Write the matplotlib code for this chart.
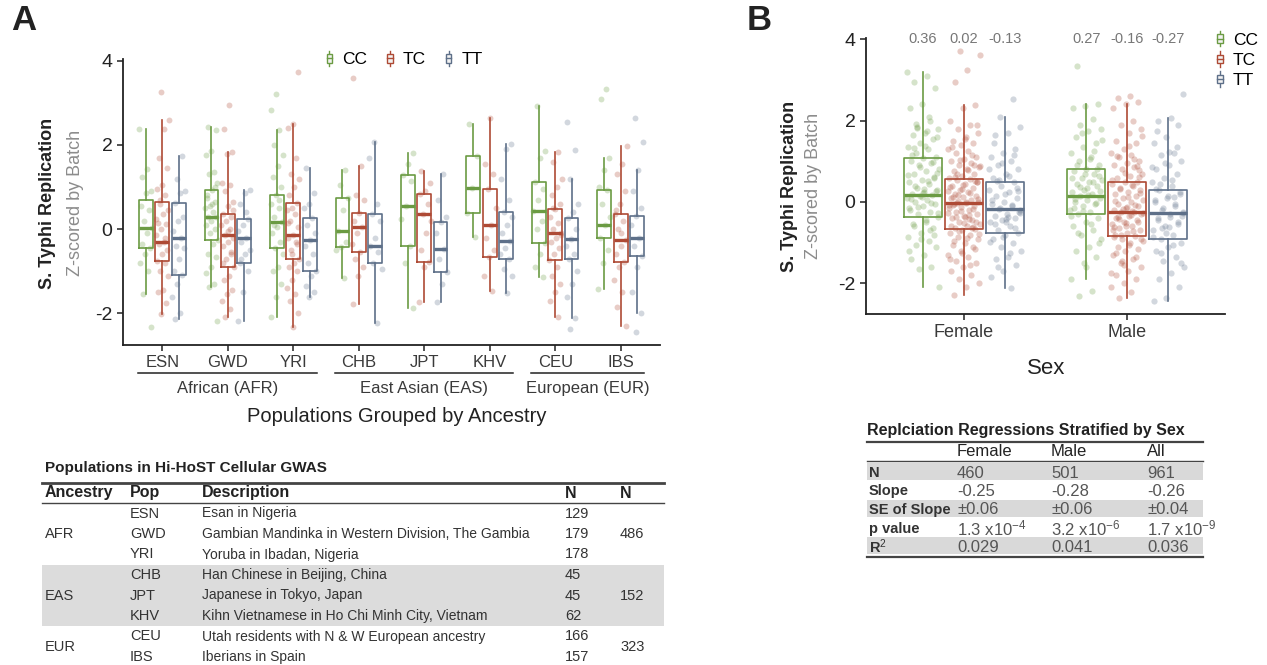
import numpy as np
import matplotlib.pyplot as plt
from matplotlib.legend_handler import HandlerBase
from matplotlib.patches import Rectangle
from matplotlib.lines import Line2D
from matplotlib.transforms import blended_transform_factory

plt.rcParams['font.family'] = ['Liberation Sans', 'DejaVu Sans']
plt.rcParams['axes.unicode_minus'] = False
plt.rcParams['mathtext.fontset'] = 'custom'
plt.rcParams['mathtext.rm'] = 'Liberation Sans'
plt.rcParams['mathtext.it'] = 'Liberation Sans'
plt.rcParams['mathtext.bf'] = 'Liberation Sans:bold'

# ---------------- data ----------------
genotypes = ['CC', 'TC', 'TT']
colors = ['#6B9B43', '#AE4A35', '#5E7089']

pops = ['ESN', 'GWD', 'YRI', 'CHB', 'JPT', 'KHV', 'CEU', 'IBS']
ancestry_names = ['African (AFR)', 'East Asian (EAS)', 'European (EUR)']
ancestry_pops = [['ESN', 'GWD', 'YRI'], ['CHB', 'JPT', 'KHV'], ['CEU', 'IBS']]

# panel A box stats (whisker low, q1, median, q3, whisker high) per population
a_cc_lo = [-1.54, -1.38, -2.09, -1.15, -1.88, -0.19, -1.14, -1.41]
a_cc_q1 = [-0.45, -0.25, -0.45, -0.43, -0.40, 0.39, -0.32, -0.21]
a_cc_med = [0.02, 0.30, 0.17, -0.04, 0.54, 0.97, 0.43, 0.10]
a_cc_q3 = [0.70, 0.93, 0.82, 0.73, 1.29, 1.74, 1.12, 0.92]
a_cc_hi = [2.37, 2.42, 2.36, 1.41, 1.80, 2.50, 2.93, 1.69]

a_tc_lo = [-2.01, -2.09, -2.33, -1.78, -1.72, -1.46, -2.09, -2.29]
a_tc_q1 = [-0.75, -0.89, -0.70, -0.55, -0.78, -0.66, -0.73, -0.78]
a_tc_med = [-0.30, -0.13, -0.14, 0.06, 0.35, 0.10, -0.09, -0.25]
a_tc_q3 = [0.65, 0.36, 0.63, 0.39, 0.84, 0.96, 0.47, 0.36]
a_tc_hi = [2.60, 1.84, 2.49, 1.50, 1.37, 2.64, 1.84, 1.98]

a_tt_lo = [-2.14, -2.17, -1.60, -2.22, -1.72, -1.52, -2.12, -1.98]
a_tt_q1 = [-1.09, -0.81, -1.00, -0.81, -1.02, -0.70, -0.70, -0.63]
a_tt_med = [-0.22, -0.22, -0.25, -0.40, -0.47, -0.29, -0.24, -0.21]
a_tt_q3 = [0.62, 0.25, 0.27, 0.36, 0.18, 0.41, 0.27, 0.32]
a_tt_hi = [1.74, 0.92, 1.45, 2.07, 1.31, 2.02, 1.20, 1.41]

# panel A individual points (estimated), one list per population
a_pts_cc = [
    [2.37, 1.42, 1.25, 0.9, 0.85, 0.55, 0.45, 0.2, 0.02, -0.1, -0.35, -0.45, -0.6, -0.8, -1.0, -1.54, -2.33],
    [2.42, 2.35, 1.85, 1.75, 1.35, 1.3, 1.1, 0.93, 0.8, 0.65, 0.55, 0.5, 0.4, 0.3, 0.3, 0.2, 0.1, 0.0,
     -0.1, -0.25, -0.35, -0.6, -0.65, -0.9, -1.05, -1.3, -1.38, -2.19, 0.6, 0.75, 1.0],
    [3.21, 2.83, 2.36, 2.0, 1.75, 1.5, 1.25, 1.0, 0.82, 0.6, 0.5, 0.3, 0.17, 0.05, -0.1, -0.3, -0.45,
     -0.6, -0.9, -1.0, -1.3, -1.6, -2.09, 0.7, 0.1],
    [1.41, 1.05, 0.73, 0.45, -0.04, -0.3, -0.43, -0.5, -1.15],
    [1.8, 1.55, 1.29, 1.15, 0.54, 0.25, -0.4, -0.8, -1.88],
    [2.5, 1.74, 0.97, 0.39, -0.19],
    [2.93, 1.85, 1.7, 1.12, 0.95, 0.7, 0.43, 0.2, 0.0, -0.32, -0.6, -0.9, -1.14],
    [3.33, 3.09, 1.69, 1.4, 1.0, 0.92, 0.6, 0.3, 0.1, -0.21, -0.5, -0.8, -1.41],
]
a_pts_tc = [
    [3.25, 2.6, 2.38, 1.7, 1.45, 1.05, 0.95, 0.8, 0.6, 0.45, 0.35, 0.15, 0.12, 0.0, -0.15, -0.3, -0.35,
     -0.5, -0.6, -0.75, -0.8, -1.0, -1.1, -1.45, -1.5, -1.75, -2.01, 0.25, -0.2, 0.7],
    [2.94, 2.38, 1.84, 1.78, 1.1, 1.05, 0.9, 0.65, 0.55, 0.36, 0.3, 0.2, 0.1, 0.0, -0.13, -0.2, -0.3,
     -0.4, -0.55, -0.7, -0.89, -1.1, -1.2, -1.45, -1.55, -1.7, -1.9, -2.09, 0.45, -0.05, -0.8, -0.6],
    [3.73, 2.49, 2.4, 1.7, 1.3, 1.2, 1.0, 0.8, 0.63, 0.5, 0.45, 0.35, 0.2, 0.05, -0.14, -0.2, -0.3,
     -0.5, -0.7, -0.8, -0.9, -1.0, -1.2, -1.4, -1.55, -1.7, -2.0, -2.33, 0.15, -0.35, -0.6],
    [3.6, 1.5, 0.8, 0.7, 0.39, 0.2, 0.06, -0.1, -0.35, -0.55, -0.7, -0.9, -1.1, -1.78],
    [1.37, 1.1, 0.9, 0.84, 0.6, 0.35, 0.2, -0.1, -0.5, -0.78, -0.9, -1.72],
    [2.64, 1.55, 1.3, 0.96, 0.5, 0.1, -0.2, -0.5, -0.66, -1.1, -1.46],
    [1.84, 1.6, 1.2, 1.0, 0.8, 0.6, 0.47, 0.3, 0.15, 0.0, -0.09, -0.2, -0.3, -0.45, -0.6, -0.73, -0.9,
     -1.1, -1.3, -1.5, -1.7, -2.09, 0.5, -0.15],
    [1.98, 1.55, 1.3, 0.9, 0.6, 0.36, 0.2, 0.0, -0.25, -0.4, -0.6, -0.78, -0.9, -1.2, -1.5, -1.85,
     -2.29, -0.1, 0.45],
]
a_pts_tt = [
    [1.74, 1.2, 0.9, 0.85, 0.62, 0.3, 0.2, -0.05, -0.22, -0.4, -0.45, -0.7, -1.0, -1.09, -1.3, -1.6, -2.0, -2.14],
    [0.92, 0.85, 0.6, 0.25, 0.1, -0.05, -0.22, -0.3, -0.5, -0.6, -0.81, -1.0, -1.5, -2.17, 0.4, -0.7],
    [1.45, 0.85, 0.6, 0.5, 0.27, 0.1, -0.1, -0.25, -0.4, -0.6, -0.8, -1.0, -1.1, -1.35, -1.5, -1.6],
    [2.07, 1.7, 0.6, 0.36, 0.2, -0.2, -0.4, -0.55, -0.81, -0.95, -2.22],
    [1.31, 0.7, 0.3, 0.18, -0.1, -0.47, -0.7, -1.02, -1.3, -1.72],
    [2.02, 1.9, 1.2, 0.7, 0.41, 0.3, 0.1, -0.1, -0.29, -0.45, -0.6, -0.7, -0.95, -1.1, -1.52],
    [2.55, 1.87, 1.2, 0.6, 0.4, 0.27, 0.0, -0.24, -0.4, -0.6, -0.7, -1.0, -1.3, -1.6, -2.12, -2.38],
    [2.64, 2.08, 1.41, 0.9, 0.5, 0.32, 0.1, -0.21, -0.4, -0.63, -0.9, -1.5, -1.98, -2.44],
]

# panel B (Female, Male)
sexes = ['Female', 'Male']
b_cc_lo = [-2.10, -1.89]
b_cc_q1 = [-0.38, -0.30]
b_cc_med = [0.17, 0.14]
b_cc_q3 = [1.07, 0.80]
b_cc_hi = [3.20, 2.41]
b_tc_lo = [-2.28, -2.35]
b_tc_q1 = [-0.67, -0.84]
b_tc_med = [-0.03, -0.24]
b_tc_q3 = [0.57, 0.48]
b_tc_hi = [2.38, 2.40]
b_tt_lo = [-2.12, -2.43]
b_tt_q1 = [-0.75, -0.92]
b_tt_med = [-0.18, -0.28]
b_tt_q3 = [0.48, 0.30]
b_tt_hi = [2.08, 2.07]
b_mean_cc = ['0.36', '0.27']
b_mean_tc = ['0.02', '-0.16']
b_mean_tt = ['-0.13', '-0.27']

b_pts_cc = [
    [3.20, 3.1, 2.95, 2.8, 2.4, 2.3, 2.0, 1.85, 1.8, 1.7, 1.65, 1.55, 1.45, 1.35, 1.3, 1.2, 1.1, 1.07, 1.0,
     0.95, 0.9, 0.8, 0.75, 0.7, 0.6, 0.55, 0.5, 0.45, 0.35, 0.3, 0.25, 0.2, 0.17, 0.15, 0.1, 0.05, 0.0,
     -0.05, -0.1, -0.2, -0.25, -0.3, -0.38, -0.45, -0.55, -0.65, -0.75, -0.85, -0.95, -1.05, -1.1, -1.3,
     -1.4, -1.6, -1.65, -2.10, 1.75, 1.32, 0.62, 0.12, -0.15, -0.7,
     1.82, 1.6, 1.38, 1.15, 0.98, 0.85, 0.66, 0.52, 0.4, 0.28, 0.22, 0.08, -0.02, -0.12, -0.28, -0.5,
     -0.6, -0.8, -0.9, -1.2, 2.1, 1.92, 0.72, 0.32],
    [3.33, 2.41, 2.35, 2.3, 2.05, 1.9, 1.8, 1.75, 1.6, 1.45, 1.35, 1.2, 1.1, 1.0, 0.9, 0.8, 0.75, 0.7, 0.6,
     0.55, 0.5, 0.45, 0.4, 0.3, 0.25, 0.2, 0.14, 0.1, 0.05, 0.0, -0.05, -0.1, -0.2, -0.25, -0.3, -0.4, -0.5,
     -0.6, -0.7, -0.8, -0.9, -1.1, -1.2, -1.35, -1.5, -1.89, -2.18, -2.31, 0.65, 0.35, -0.15, 1.25,
     1.7, 1.52, 1.05, 0.92, 0.82, 0.68, 0.58, 0.48, 0.38, 0.28, 0.18, 0.08, -0.02, -0.22, -0.35, -0.55,
     -0.75, -1.0, -1.6],
]
b_pts_tc = [
    [3.72, 3.61, 3.25, 2.96, 2.38, 2.3, 2.0, 1.9, 1.8, 1.7, 1.6, 1.5, 1.45, 1.4, 1.3, 1.25, 1.2, 1.1, 1.05,
     1.0, 0.95, 0.9, 0.85, 0.8, 0.75, 0.7, 0.65, 0.6, 0.57, 0.55, 0.5, 0.45, 0.4, 0.35, 0.3, 0.28, 0.25,
     0.2, 0.15, 0.12, 0.1, 0.05, 0.02, 0.0, -0.03, -0.05, -0.1, -0.12, -0.15, -0.2, -0.25, -0.3, -0.35,
     -0.4, -0.45, -0.5, -0.55, -0.6, -0.65, -0.67, -0.7, -0.75, -0.8, -0.85, -0.9, -1.0, -1.05, -1.1, -1.2,
     -1.3, -1.35, -1.45, -1.5, -1.6, -1.7, -1.8, -1.9, -2.0, -2.1, -2.28, 0.92, 0.33, -0.08, -0.42, 0.68,
     1.88, 1.55, 1.35, 1.15, 1.02, 0.88, 0.78, 0.62, 0.52, 0.42, 0.36, 0.22, 0.18, 0.07, -0.01, -0.07,
     -0.18, -0.22, -0.28, -0.33, -0.38, -0.48, -0.52, -0.58, -0.63, -0.72, -0.78, -0.88, -0.95, -1.15,
     -1.25, -1.4, -1.55, -0.02, 0.48, -0.36, 0.12, -0.62],
    [2.6, 2.55, 2.45, 2.40, 2.3, 2.0, 1.9, 1.8, 1.7, 1.5, 1.45, 1.3, 1.2, 1.15, 1.1, 1.0, 0.95, 0.9, 0.85,
     0.8, 0.7, 0.65, 0.6, 0.5, 0.48, 0.45, 0.4, 0.35, 0.3, 0.25, 0.2, 0.15, 0.1, 0.05, 0.0, -0.05, -0.1,
     -0.15, -0.2, -0.24, -0.25, -0.3, -0.35, -0.4, -0.45, -0.5, -0.55, -0.6, -0.65, -0.7, -0.75, -0.8,
     -0.84, -0.9, -0.95, -1.0, -1.1, -1.15, -1.2, -1.3, -1.4, -1.5, -1.6, -1.7, -1.8, -1.9, -2.0, -2.1,
     -2.2, -2.35, 0.78, -0.52, -0.62, 1.05, -1.45,
     1.62, 1.38, 1.12, 0.88, 0.72, 0.55, 0.42, 0.32, 0.22, 0.12, 0.02, -0.08, -0.18, -0.28, -0.32,
     -0.38, -0.48, -0.58, -0.68, -0.72, -0.82, -0.92, -1.05, -1.25, -1.35, -1.55, -1.75, -0.22, -0.42,
     0.62, -0.12, -0.86],
]
b_pts_tt = [
    [2.53, 2.08, 1.85, 1.7, 1.65, 1.3, 1.2, 1.1, 1.0, 0.9, 0.8, 0.7, 0.6, 0.48, 0.4, 0.3, 0.25, 0.15, 0.1,
     0.0, -0.05, -0.1, -0.18, -0.2, -0.3, -0.35, -0.4, -0.45, -0.5, -0.6, -0.7, -0.75, -0.8, -0.9, -1.0,
     -1.1, -1.2, -1.35, -1.4, -1.55, -1.7, -1.85, -2.12, 0.55, -0.25, -0.42,
     1.45, 1.15, 0.95, 0.82, 0.65, 0.52, 0.35, 0.2, 0.05, -0.08, -0.15, -0.28, -0.38, -0.55, -0.65,
     -0.85, -0.98, -1.25, -1.6, 0.28, -0.48],
    [2.65, 2.07, 2.0, 1.9, 1.6, 1.45, 1.2, 1.15, 1.0, 0.9, 0.8, 0.7, 0.6, 0.5, 0.4, 0.3, 0.2, 0.1, 0.0,
     -0.1, -0.2, -0.28, -0.3, -0.4, -0.5, -0.6, -0.7, -0.8, -0.92, -1.0, -1.1, -1.2, -1.35, -1.45, -1.6,
     -1.75, -1.9, -2.1, -2.35, -2.43, 0.12, -0.65, -0.35, 1.22,
     1.75, 1.35, 0.95, 0.85, 0.55, 0.45, 0.25, 0.15, 0.05, -0.05, -0.15, -0.25, -0.38, -0.45, -0.55,
     -0.75, -0.85, -1.05, -1.25, -1.5, -0.62, 0.32],
]

# table A
table_a_title = 'Populations in Hi-HoST Cellular GWAS'
table_a_header = ['Ancestry', 'Pop', 'Description', 'N', 'N']
anc_codes = ['AFR', 'EAS', 'EUR']
pop_desc = ['Esan in Nigeria',
            'Gambian Mandinka in Western Division, The Gambia',
            'Yoruba in Ibadan, Nigeria',
            'Han Chinese in Beijing, China',
            'Japanese in Tokyo, Japan',
            'Kihn Vietnamese in Ho Chi Minh City, Vietnam',
            'Utah residents with N & W European ancestry',
            'Iberians in Spain']
pop_n = [129, 179, 178, 45, 45, 62, 166, 157]
anc_n = [486, 152, 323]

# table B
table_b_title = 'Replciation Regressions Stratified by Sex'
table_b_cols = ['Female', 'Male', 'All']
table_b_rows = ['N', 'Slope', 'SE of Slope', 'p value', 'R$^2$']
tb_female = ['460', '-0.25', '\u00b10.06', '1.3 x10$^{-4}$', '0.029']
tb_male = ['501', '-0.28', '\u00b10.06', '3.2 x10$^{-6}$', '0.041']
tb_all = ['961', '-0.26', '\u00b10.04', '1.7 x10$^{-9}$', '0.036']

# ---------------- figure ----------------
W, H = 1267, 665
fig = plt.figure(figsize=(W / 100, H / 100), dpi=100)


def fx(px):
    return px / W


def fy(py):
    return 1 - py / H


def axes_px(left, top, right, bottom):
    return fig.add_axes([fx(left), fy(bottom), (right - left) / W, (bottom - top) / H])


class BoxKey(HandlerBase):
    def create_artists(self, legend, orig_handle, xdescent, ydescent, width, height, fontsize, trans):
        c = orig_handle.get_color()
        cx = width / 2 - xdescent
        bw = width * 0.7
        y0 = -ydescent
        whisk = Line2D([cx, cx], [y0, y0 + height], color=c, lw=1.0, transform=trans)
        box = Rectangle((cx - bw / 2, y0 + height * 0.22), bw, height * 0.56, facecolor='#f2f2f2',
                        edgecolor=c, lw=1.0, transform=trans)
        med = Line2D([cx - bw / 2, cx + bw / 2], [y0 + height / 2] * 2, color=c, lw=1.0, transform=trans)
        return [whisk, box, med]


def draw_panel(ax, centers, stats, points, width, size):
    for g, col in enumerate(colors):
        pos = np.asarray(centers, dtype=float) + (g - 1) * 0.25
        lo, q1, med, q3, hi = stats[g]
        bstats = [dict(whislo=lo[i], q1=q1[i], med=med[i], q3=q3[i], whishi=hi[i], fliers=[])
                  for i in range(len(pos))]
        for i, vals in enumerate(points[g]):
            k = np.arange(len(vals))
            jit = ((k * 0.618034 + 0.37 * g + 0.23 * i) % 1 - 0.5) * 0.2
            ax.scatter(pos[i] + jit, vals, s=size, color=col, alpha=0.28, linewidths=0, zorder=1)
        ax.bxp(bstats, positions=pos, widths=width, showfliers=False, showcaps=False,
               boxprops=dict(color=col, linewidth=1.2),
               whiskerprops=dict(color=col, linewidth=1.2),
               medianprops=dict(color=col, linewidth=2.4),
               manage_ticks=False, zorder=2)


def style_axes(ax):
    for s in ['top', 'right']:
        ax.spines[s].set_visible(False)
    for s in ['left', 'bottom']:
        ax.spines[s].set_linewidth(1.3)
        ax.spines[s].set_color('#222222')
    ax.tick_params(length=4, width=1.1, color='#222222')
    ax.set_yticks([-2, 0, 2, 4])
    ax.set_yticklabels(['-2', '0', '2', '4'], fontsize=14, color='#222222')


# ---- panel A ----
axA = axes_px(123, 59, 660, 345)
xA = np.arange(1, len(pops) + 1)
draw_panel(axA, xA,
           [(a_cc_lo, a_cc_q1, a_cc_med, a_cc_q3, a_cc_hi),
            (a_tc_lo, a_tc_q1, a_tc_med, a_tc_q3, a_tc_hi),
            (a_tt_lo, a_tt_q1, a_tt_med, a_tt_q3, a_tt_hi)],
           [a_pts_cc, a_pts_tc, a_pts_tt], 0.21, 18)
axA.set_xlim(0.4, len(pops) + 0.6)
axA.set_ylim(-2.75, 4.04)
style_axes(axA)
axA.set_xticks(xA)
axA.set_xticklabels(pops, fontsize=12, color='#3a3a3a')

tr = blended_transform_factory(axA.transData, fig.transFigure)
for name, members in zip(ancestry_names, ancestry_pops):
    i0 = pops.index(members[0]) + 1
    i1 = pops.index(members[-1]) + 1
    axA.add_line(Line2D([i0 - 0.37, i1 + 0.36], [fy(373), fy(373)], color='#222222', lw=1.1,
                        transform=tr, clip_on=False))
    axA.text((i0 + i1) / 2, fy(389), name, transform=tr, ha='center', va='center',
             fontsize=12, color='#3a3a3a')

fig.text(fx(397), fy(416), 'Populations Grouped by Ancestry', ha='center', va='center',
         fontsize=14.5, color='#222222')
fig.text(fx(48), fy(203), 'S. Typhi Replication', rotation=90, ha='center', va='center',
         fontsize=13, fontweight='bold', color='#222222')
fig.text(fx(75), fy(203), 'Z-scored by Batch', rotation=90, ha='center', va='center',
         fontsize=13, color='#8c8c8c')
fig.text(fx(11), fy(21), 'A', ha='left', va='center', fontsize=25, fontweight='bold', color='#222222')

handles = [Line2D([], [], color=c) for c in colors]
axA.legend(handles, genotypes, handler_map={Line2D: BoxKey()}, ncol=3, loc='center',
           bbox_to_anchor=(fx(404), fy(59)), bbox_transform=fig.transFigure, frameon=False,
           handlelength=0.45, handleheight=1.0, handletextpad=0.5, columnspacing=1.1,
           fontsize=12.5, borderpad=0)

# ---- panel B ----
axB = axes_px(866, 38, 1225, 313.5)
xB = np.arange(1, len(sexes) + 1)
draw_panel(axB, xB,
           [(b_cc_lo, b_cc_q1, b_cc_med, b_cc_q3, b_cc_hi),
            (b_tc_lo, b_tc_q1, b_tc_med, b_tc_q3, b_tc_hi),
            (b_tt_lo, b_tt_q1, b_tt_med, b_tt_q3, b_tt_hi)],
           [b_pts_cc, b_pts_tc, b_pts_tt], 0.235, 20)
axB.set_xlim(0.4, len(sexes) + 0.6)
axB.set_ylim(-2.74, 4.03)
style_axes(axB)
axB.set_xticks(xB)
axB.set_xticklabels(sexes, fontsize=13, color='#3a3a3a')
for g, means in enumerate([b_mean_cc, b_mean_tc, b_mean_tt]):
    for i, m in enumerate(means):
        axB.text(xB[i] + (g - 1) * 0.25, 4.0, m, ha='center', va='center', fontsize=10.5,
                 color='#777777', clip_on=False)

fig.text(fx(1046), fy(368), 'Sex', ha='center', va='center', fontsize=16, color='#222222')
fig.text(fx(789), fy(186), 'S. Typhi Replication', rotation=90, ha='center', va='center',
         fontsize=13, fontweight='bold', color='#222222')
fig.text(fx(814), fy(186), 'Z-scored by Batch', rotation=90, ha='center', va='center',
         fontsize=13, color='#8c8c8c')
fig.text(fx(747), fy(21), 'B', ha='left', va='center', fontsize=25, fontweight='bold', color='#222222')

axB.legend(handles, genotypes, handler_map={Line2D: BoxKey()}, loc='center',
           bbox_to_anchor=(fx(1237), fy(59.5)), bbox_transform=fig.transFigure, frameon=False,
           handlelength=0.45, handleheight=1.0, handletextpad=0.5, labelspacing=0.2,
           fontsize=12.5, borderpad=0)

# ---- table A ----
ta_left, ta_right = 42, 664
row_y0, row_h = 513.5, 20.5
fig.text(fx(45), fy(468), table_a_title, ha='left', va='center', fontsize=11, fontweight='bold',
         color='#222222')
fig.add_artist(Line2D([fx(ta_left), fx(ta_right)], [fy(483), fy(483)], color='#444444', lw=2.0))
fig.add_artist(Line2D([fx(ta_left), fx(ta_right)], [fy(503), fy(503)], color='#444444', lw=1.0))
head_x = [45, 130, 202, 565, 620]
for hx, h in zip(head_x, table_a_header):
    fig.text(fx(hx), fy(493), h, ha='left', va='center', fontsize=11.5, fontweight='bold',
             color='#222222')

pop_rows = {p: i for i, p in enumerate(pops)}
for k, members in enumerate(ancestry_pops):
    rows = [pop_rows[m] for m in members]
    ys = [row_y0 + r * row_h for r in rows]
    if k == 1:
        fig.add_artist(Rectangle((fx(ta_left), fy(ys[-1] + row_h / 2)), (ta_right - ta_left) / W,
                                 (len(rows) * row_h) / H, facecolor='#dcdcdc', edgecolor='none',
                                 zorder=0))
    yc = np.mean(ys)
    fig.text(fx(45), fy(yc), anc_codes[k], ha='left', va='center', fontsize=10.5, color='#333333')
    fig.text(fx(620), fy(yc), str(anc_n[k]), ha='left', va='center', fontsize=10.5, color='#333333')

for i, p in enumerate(pops):
    y = row_y0 + i * row_h
    fig.text(fx(130), fy(y), p, ha='left', va='center', fontsize=10.5, color='#333333')
    fig.text(fx(202), fy(y), pop_desc[i], ha='left', va='center', fontsize=10, color='#333333')
    fig.text(fx(565), fy(y), str(pop_n[i]), ha='left', va='center', fontsize=10.5, color='#333333')

# ---- table B ----
tb_left, tb_right = 867, 1203
tb_y0, tb_h = 471.5, 18.5
fig.text(fx(867), fy(431), table_b_title, ha='left', va='center', fontsize=11.5, fontweight='bold',
         color='#222222')
fig.add_artist(Line2D([fx(tb_left), fx(tb_right)], [fy(442), fy(442)], color='#444444', lw=1.6))
fig.add_artist(Line2D([fx(tb_left), fx(tb_right)], [fy(461), fy(461)], color='#444444', lw=1.0))
col_x = [957, 1051, 1147]
for cx, c in zip(col_x, table_b_cols):
    fig.text(fx(cx), fy(452), c, ha='left', va='center', fontsize=12, color='#222222')
for r, lab in enumerate(table_b_rows):
    y = tb_y0 + r * tb_h
    if r % 2 == 0:
        fig.add_artist(Rectangle((fx(tb_left), fy(y + tb_h / 2 - 0.5)), (tb_right - tb_left) / W,
                                 (tb_h - 1) / H, facecolor='#d9d9d9', edgecolor='none', zorder=0))
    fig.text(fx(869), fy(y), lab, ha='left', va='center_baseline', fontsize=10.5, fontweight='bold',
             color='#333333')
    for cx, vals in zip(col_x, [tb_female, tb_male, tb_all]):
        fig.text(fx(cx), fy(y), vals[r], ha='left', va='center_baseline', fontsize=12, color='#555555')
fig.add_artist(Line2D([fx(tb_left), fx(tb_right)], [fy(557), fy(557)], color='#444444', lw=1.6))

fig.savefig('out.png', dpi=100)
